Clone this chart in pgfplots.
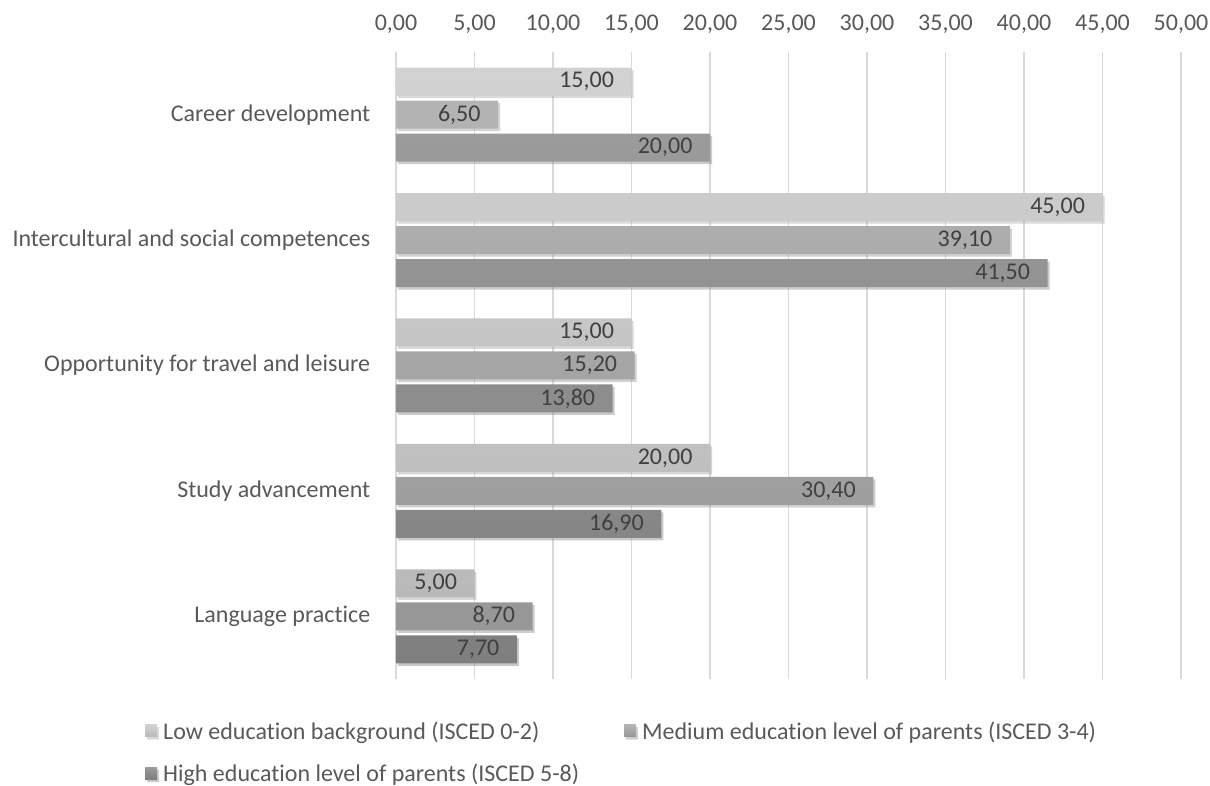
\documentclass[border=0pt]{standalone}
\usepackage{pgfplots}
\pgfplotsset{compat=1.18}
\usepackage{fontspec}
\setmainfont{Carlito}[Ligatures=NoCommon]
\usetikzlibrary{shadows}
\definecolor{txt}{HTML}{595959}
\definecolor{vtxt}{HTML}{404040}
\definecolor{gridc}{HTML}{D9D9D9}
\definecolor{lowT}{HTML}{D2D2D2}
\definecolor{lowB}{HTML}{B9B9B9}
\definecolor{medT}{HTML}{B4B4B4}
\definecolor{medB}{HTML}{979797}
\definecolor{higT}{HTML}{9B9B9B}
\definecolor{higB}{HTML}{7F7F7F}
\pgfkeys{/pgf/number format/assume math mode=true}
\begin{document}
\begin{tikzpicture}
\useasboundingbox (0,0) rectangle (1210pt,785pt);
\begin{axis}[
  at={(396pt,106pt)}, anchor=south west,
  scale only axis, width=785pt, height=627pt,
  xbar, bar width=28pt,
  xmin=0, xmax=50, xtick={0,5,...,50},
  ymin=-0.5, ymax=4.5, ytick={0,1,2,3,4},
  yticklabels={Language practice, Study advancement\ , Opportunity for travel and leisure, Intercultural and social competences, Career development},
  xticklabel pos=upper,
  axis line style={draw=none}, tick style={draw=none},
  xmajorgrids, grid style={gridc, line width=1.2pt},
  xticklabel={\pgfmathprintnumber[fixed,fixed zerofill,precision=2,use comma]{\tick}},
  ticklabel style={font=\fontsize{24}{28}\selectfont, text=txt},
  xticklabel style={yshift=15pt},
  yticklabel style={xshift=-18pt},
  nodes near coords={\pgfmathprintnumber[fixed,fixed zerofill,precision=2,use comma]{\pgfplotspointmeta}},
  nodes near coords align={anchor=east},
  every node near coord/.append style={font=\fontsize{24}{28}\selectfont, text=vtxt, xshift=-14pt},
  legend columns=2,
  legend style={at={(-0.3236,-0.061)}, anchor=north west, draw=none, fill=none,
    font=\fontsize{24}{28}\selectfont, text=txt, row sep=19pt,
    /tikz/every even column/.append style={column sep=43pt}},
  legend cell align=left,
]
\addplot[draw=none, top color=lowT, bottom color=lowB, bar shift=33pt,
  drop shadow={shadow xshift=2pt, shadow yshift=-2.5pt, opacity=0.25},
  legend image code/.code={\shade[top color=lowT, bottom color=lowB] (0pt,-6pt) rectangle (12pt,6pt); \path (16pt,0pt);}]
  coordinates {(5,0) (20,1) (15,2) (45,3) (15,4)};
\addplot[draw=none, top color=medT, bottom color=medB, bar shift=0pt,
  drop shadow={shadow xshift=2pt, shadow yshift=-2.5pt, opacity=0.25},
  legend image code/.code={\shade[top color=medT, bottom color=medB] (0pt,-6pt) rectangle (12pt,6pt); \path (16pt,0pt);}]
  coordinates {(8.7,0) (30.4,1) (15.2,2) (39.1,3) (6.5,4)};
\addplot[draw=none, top color=higT, bottom color=higB, bar shift=-33pt,
  drop shadow={shadow xshift=2pt, shadow yshift=-2.5pt, opacity=0.25},
  legend image code/.code={\shade[top color=higT, bottom color=higB] (0pt,-6pt) rectangle (12pt,6pt); \path (16pt,0pt);}]
  coordinates {(7.7,0) (16.9,1) (13.8,2) (41.5,3) (20,4)};
\legend{Low education background (ISCED 0-2), Medium education level of parents (ISCED 3-4), High education level of parents (ISCED 5-8)}
\end{axis}
\end{tikzpicture}
\end{document}
